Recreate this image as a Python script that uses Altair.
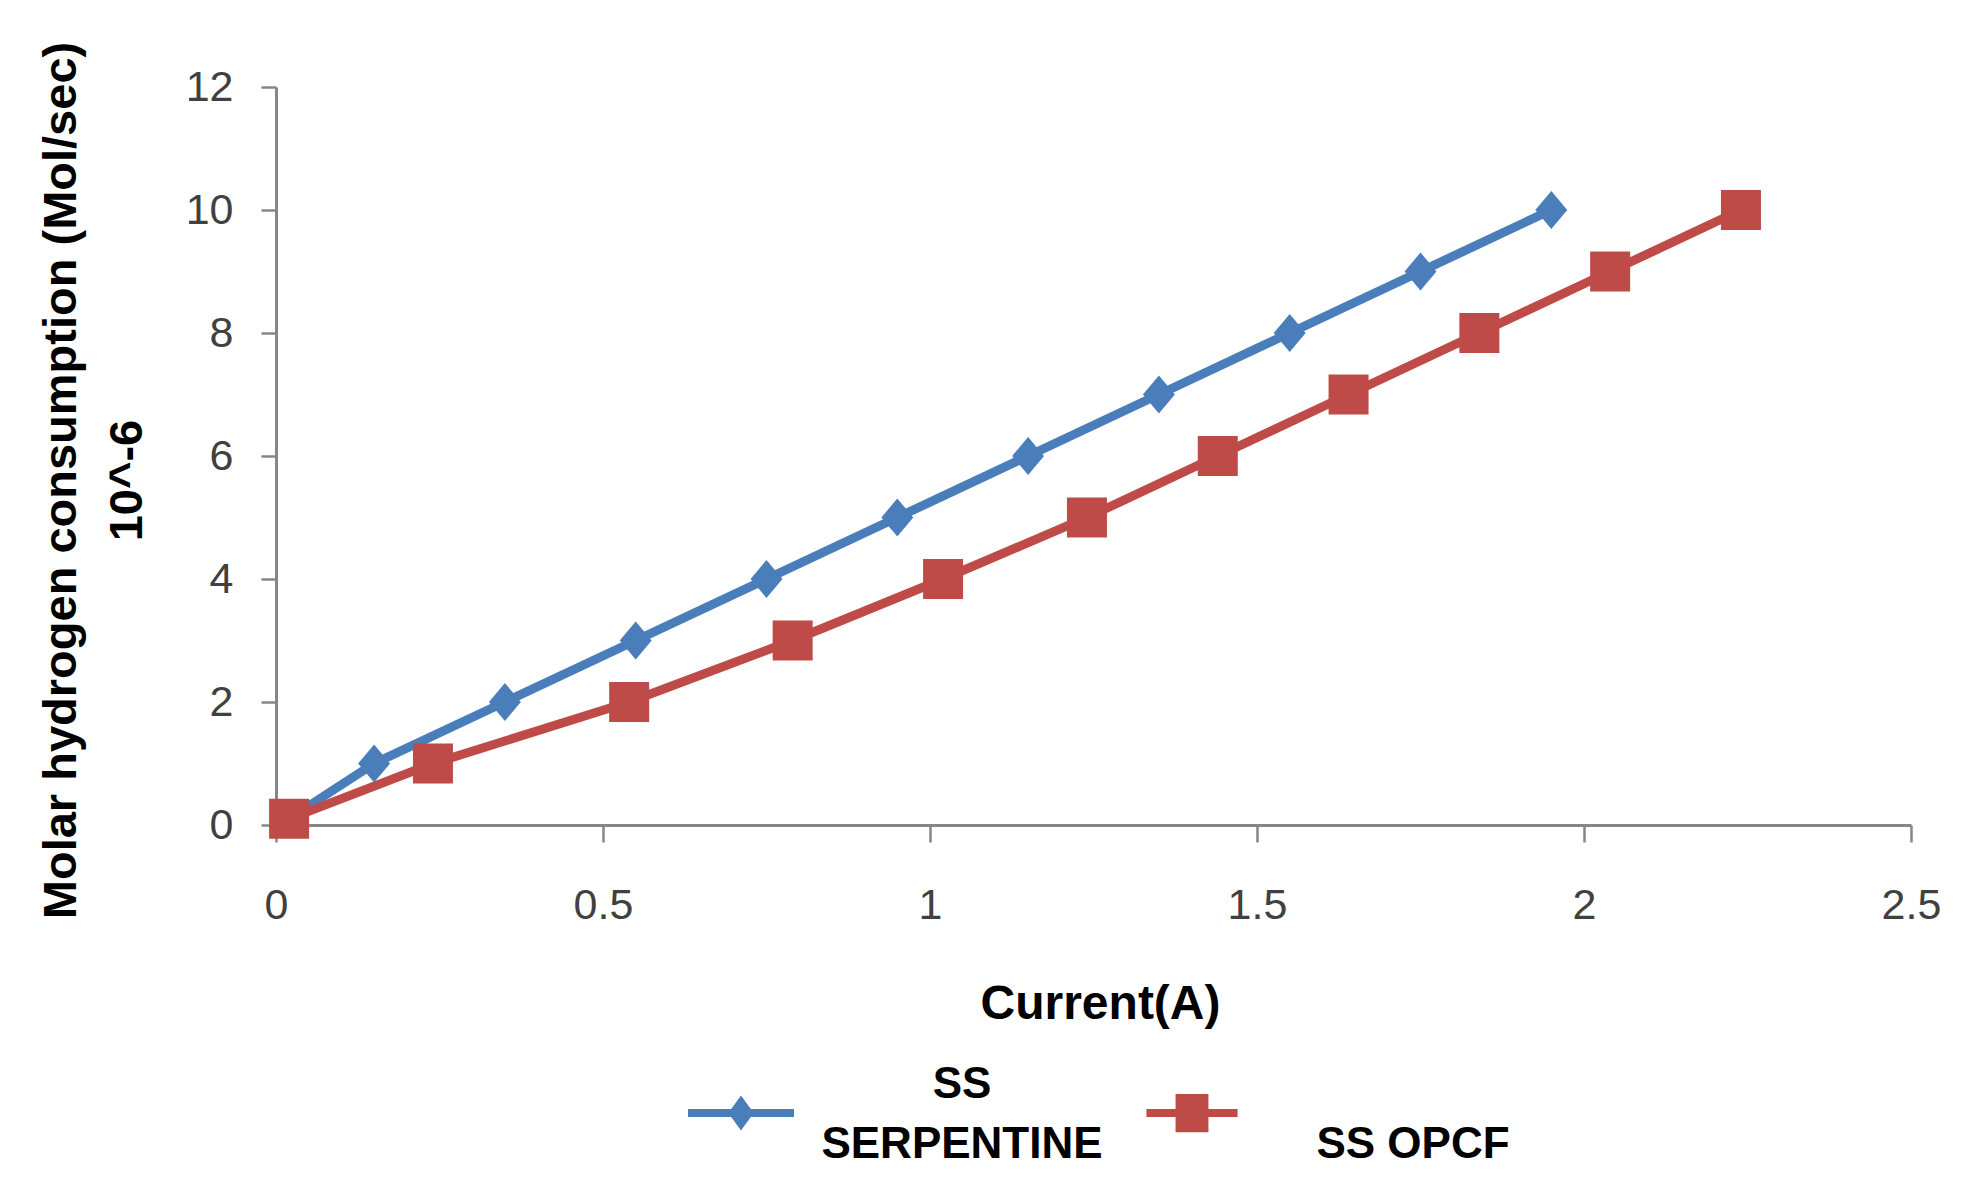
import altair as alt
import pandas as pd

series_names = ["SS SERPENTINE", "SS OPCF"]
serp_current = [0.02, 0.15, 0.35, 0.55, 0.75, 0.95, 1.15, 1.35, 1.55, 1.75, 1.95]
serp_h2 = [0.1, 1, 2, 3, 4, 5, 6, 7, 8, 9, 10]
opcf_current = [0.02, 0.24, 0.54, 0.79, 1.02, 1.24, 1.44, 1.64, 1.84, 2.04, 2.24]
opcf_h2 = [0.1, 1, 2, 3, 4, 5, 6, 7, 8, 9, 10]
x_ticks = [0, 0.5, 1, 1.5, 2, 2.5]
y_ticks = [0, 2, 4, 6, 8, 10, 12]
colors = ["#4A7EBB", "#BE4B48"]

rows = []
for x, y in zip(serp_current, serp_h2):
    rows.append({"series": series_names[0], "current": x, "h2": y})
for x, y in zip(opcf_current, opcf_h2):
    rows.append({"series": series_names[1], "current": x, "h2": y})
df = pd.DataFrame(rows)

FONT = "Liberation Sans"
AXIS_GRAY = "#868686"

x_enc = alt.X(
    "current:Q",
    scale=alt.Scale(domain=[0, 2.5], nice=False, zero=False),
    axis=alt.Axis(
        values=x_ticks, format="~g", title="Current(A)", grid=False,
        domainColor=AXIS_GRAY, domainWidth=3, tickColor=AXIS_GRAY, tickWidth=2.5,
        tickSize=17, labelPadding=42, labelFont=FONT, labelFontSize=43,
        labelColor="#404040", labelFlush=False, labelOverlap=False,
        titleFont=FONT, titleFontSize=48, titleFontWeight="bold", titleColor="black",
        titleX=824, titleY=179, titleBaseline="middle", titleAlign="center",
    ),
)
y_enc = alt.Y(
    "h2:Q",
    scale=alt.Scale(domain=[0, 12], nice=False, zero=False),
    axis=alt.Axis(
        values=y_ticks, format="~g", title=["Molar hydrogen consumption (Mol/sec)", "10^-6"], grid=False,
        domainColor=AXIS_GRAY, domainWidth=3, tickColor=AXIS_GRAY, tickWidth=2.5,
        tickSize=15, labelPadding=28, labelFont=FONT, labelFontSize=43,
        labelColor="#404040", labelFlush=False, labelOverlap=False,
        titleFont=FONT, titleFontSize=47, titleFontWeight="bold", titleColor="black",
        titleAngle=270, titleX=-215, titleY=393, titleBaseline="middle",
        titleAlign="center", titleLineHeight=66,
    ),
)

base = alt.Chart(df)
blue_data = base.transform_filter(alt.datum.series == series_names[0])
red_data = base.transform_filter(alt.datum.series == series_names[1])

blue_line = blue_data.mark_line(strokeWidth=9, color=colors[0]).encode(x=x_enc, y=y_enc)
red_line = red_data.mark_line(strokeWidth=9, color=colors[1]).encode(x=x_enc, y=y_enc)

diamond = "M0,-1L0.84,0L0,1L-0.84,0Z"
blue_pts = blue_data.mark_point(
    filled=True, shape=diamond, size=1444, opacity=1, strokeWidth=0, color=colors[0]
).encode(x=x_enc, y=y_enc)
red_pts = red_data.mark_point(
    filled=True, shape="square", size=1600, opacity=1, strokeWidth=0, color=colors[1]
).encode(x=x_enc, y=y_enc)

# legend symbols: line segment with marker, drawn a little below the first label line
combo_blue = "M-1,0.455H1V0.605H-1Z M0,0.2L0.24,0.53L0,0.86L-0.24,0.53Z"
combo_red = "M-0.86,0.455H0.86V0.605H-0.86Z M-0.31,0.17H0.31V0.89H-0.31Z"

legend = alt.Legend(
    title=None, orient="none", legendX=412, legendY=945, direction="horizontal",
    symbolSize=11236, symbolStrokeWidth=0, symbolOpacity=1, labelFont=FONT, labelFontSize=44,
    labelFontWeight="bold", labelColor="black", labelAlign="center",
    labelOffset=168, labelLimit=600, columnPadding=36, padding=0,
    labelExpr="datum.label == 'SS SERPENTINE' ? ['SS', 'SERPENTINE'] : ['', datum.label]",
)

legend_layer = base.mark_point(filled=True, size=0).encode(
    x=x_enc, y=y_enc,
    color=alt.Color("series:N", scale=alt.Scale(domain=series_names, range=colors), legend=legend),
    shape=alt.Shape("series:N", scale=alt.Scale(domain=series_names, range=[combo_blue, combo_red]), legend=legend),
)

chart = alt.layer(blue_line, red_line, legend_layer, blue_pts, red_pts).properties(
    width=1635, height=738,
    autosize=alt.AutoSizeParams(type="none"),
    padding={"left": 268, "top": 79, "right": 40, "bottom": 350},
    background="white",
).configure(
    style={"guide-label": {"lineHeight": 60}}
).configure_view(stroke=None)

chart.save("out.html", embed_options={"renderer": "svg", "actions": False})
